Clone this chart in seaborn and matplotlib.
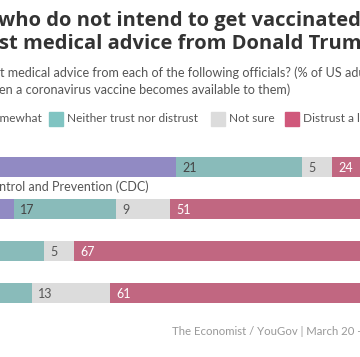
import numpy as np
import pandas as pd
import matplotlib
matplotlib.use('Agg')
import matplotlib.pyplot as plt
import seaborn as sns
from matplotlib.patches import Rectangle

# data (share of US adults who will not get vaccinated)
officials = ['Your doctor', 'Centers for Disease Control and Prevention (CDC)', 'Joe Biden', 'Donald Trump']
categories = ['Trust a lot or somewhat', 'Neither trust nor distrust', 'Not sure', 'Distrust a lot or somewhat']
trust = [50, 23, 17, 16]
neither = [21, 17, 11, 10]
not_sure = [5, 9, 5, 13]
distrust = [24, 51, 67, 61]

colors = ['#8a80cc', '#80c4c2', '#dcdcdc', '#d0587b']
label_colors = ['white', '#444444', '#555555', 'white']

df = pd.DataFrame({'official': officials, categories[0]: trust, categories[1]: neither,
                   categories[2]: not_sure, categories[3]: distrust})
cum = df[categories].cumsum(axis=1)

plt.rcParams['font.family'] = ['Lato', 'DejaVu Sans']

W, H = 360, 357
fig = plt.figure(figsize=(W / 100, H / 100), dpi=100)


def fx(px):
    return px / W


def fy(py):
    return 1 - py / H


# the chart is cropped: bars start 124px left of the picture
ax = fig.add_axes([fx(-124), fy(314), 600 / W, 168 / H])
bar_w = 20 / 42
for cat, col in reversed(list(zip(categories, colors))):
    sns.barplot(x=cum[cat], y=df['official'], color=col, width=bar_w,
                linewidth=0, orient='h', ax=ax)
ax.set_xlim(0, 100)
ax.set_ylim(3.5, -0.5)
ax.axis('off')

# segment labels
for i in range(len(officials)):
    start = 0
    for j, cat in enumerate(categories):
        v = df[cat][i]
        ax.text(start + 1, i + 0.02, str(v), va='center', ha='left', fontsize=9,
                color=label_colors[j])
        start += v
    ax.text(-0.7, i - bar_w / 2 - 8 / 42, officials[i], va='baseline', ha='left',
            fontsize=9, color='#555555')

# titles
title_font = dict(family=['Open Sans', 'DejaVu Sans'], fontsize=14.5,
                  fontweight='bold', color='#333333', va='baseline')
fig.text(fx(-2), fy(26), 'who do not intend to get vaccinated', **title_font)
fig.text(fx(-1), fy(49), 'st medical advice from Donald Trump', **title_font)
fig.text(fx(0), fy(77), 't medical advice from each of the following officials? (% of US adults',
         fontsize=9.1, color='#555555', va='baseline')
fig.text(fx(-1), fy(94), 'en a coronavirus vaccine becomes available to them)',
         fontsize=9.1, color='#555555', va='baseline')

# legend (cropped)
leg_items = [(-101, 'Trust a lot or somewhat'), (49, categories[1]),
             (211, categories[2]), (285, 'Distrust a lot or somewhat')]
for (x, txt), col in zip(leg_items, colors):
    fig.add_artist(Rectangle((fx(x), fy(126)), 14 / W, 14 / H, color=col,
                             transform=fig.transFigure))
    fig.text(fx(x + 18), fy(119), txt, fontsize=8.6, color='#555555', va='center')

fig.text(fx(172), fy(335), 'The Economist / YouGov | March 20 - 23, 2021',
         fontsize=8.2, color='#999999', va='baseline')

fig.savefig('out.png', dpi=100)
